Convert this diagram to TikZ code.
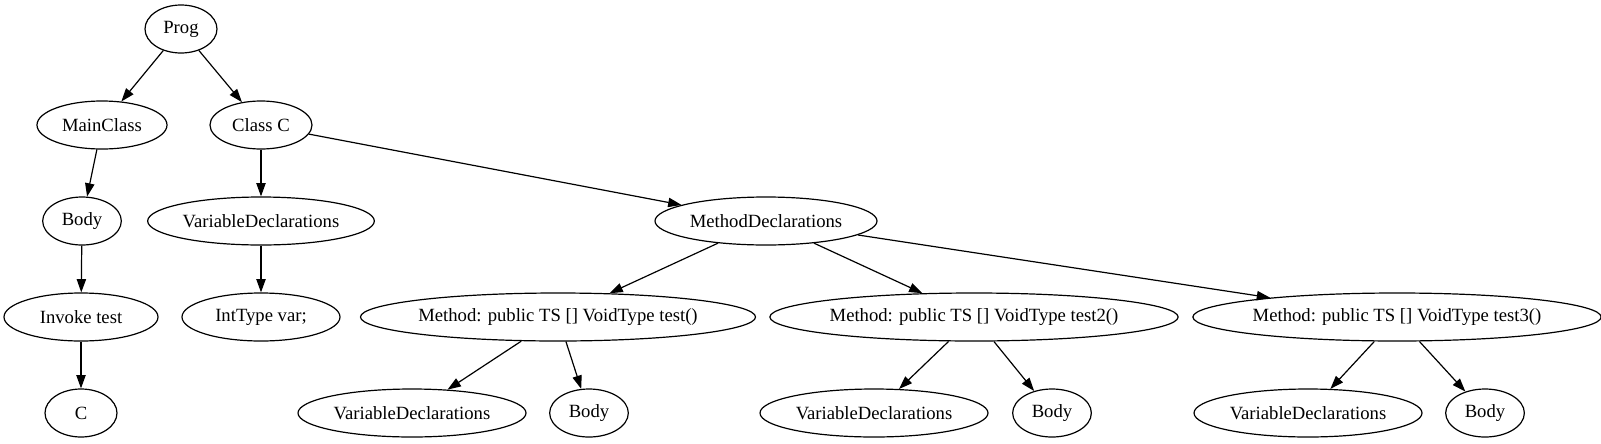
\documentclass[tikz,border=0pt]{standalone}
\usepackage{fontspec}
\setmainfont{Liberation Serif}
\usepackage{tikz}
\usetikzlibrary{shapes.geometric,arrows.meta}

\tikzset{
  treenode/.style={draw, ellipse, line width=0.9pt, inner sep=0pt,
    minimum height=36pt, font=\fontsize{14pt}{16pt}\selectfont},
  treeedge/.style={line width=0.9pt, -{Triangle[length=10pt,width=7pt]}}
}

\begin{document}
\begin{tikzpicture}[x=0.75pt, y=-0.75pt]

% Canvas (pixel units of the graph)
\useasboundingbox (0,0) rectangle (1601,443);

% Row heights
\def\RA{29}
\def\RB{125}
\def\RC{221}
\def\RD{317}
\def\RE{413}

% Root and classes
\node[treenode, minimum width=54pt] (prog) at (181,\RA) {Prog};
\node[treenode, minimum width=97.5pt] (mainclass) at (102,\RB) {MainClass};
\node[treenode, minimum width=76.5pt] (classc) at (261,\RB) {Class C};

% Main class branch
\node[treenode, minimum width=59pt] (mainbody) at (82,\RC) {Body};
\node[treenode, minimum width=115.5pt] (invoke) at (81,\RD) {Invoke test};
\node[treenode, minimum width=54pt] (cnode) at (81,\RE) {C};

% Class C branch
\node[treenode, minimum width=170pt] (classvars) at (261,\RC) {VariableDeclarations};
\node[treenode, minimum width=118.5pt] (inttype) at (261,\RD) {IntType var;};
\node[treenode, minimum width=166.5pt] (methods) at (766,\RC) {MethodDeclarations};

% Methods
\node[treenode, minimum width=289pt] (methA) at (558,\RD) {Method: public TS [] VoidType test()};
\node[treenode, minimum width=298.5pt] (methB) at (974,\RD) {Method: public TS [] VoidType test2()};
\node[treenode, minimum width=298.5pt] (methC) at (1397,\RD) {Method: public TS [] VoidType test3()};

% Method contents
\node[treenode, minimum width=171pt] (varsA) at (412,\RE) {VariableDeclarations};
\node[treenode, minimum width=59pt] (bodyA) at (589,\RE) {Body};
\node[treenode, minimum width=171pt] (varsB) at (874,\RE) {VariableDeclarations};
\node[treenode, minimum width=59pt] (bodyB) at (1052,\RE) {Body};
\node[treenode, minimum width=171pt] (varsC) at (1308,\RE) {VariableDeclarations};
\node[treenode, minimum width=59pt] (bodyC) at (1485,\RE) {Body};

% Edges
\draw[treeedge] (prog) -- (mainclass);
\draw[treeedge] (prog) -- (classc);
\draw[treeedge] (mainclass) -- (mainbody);
\draw[treeedge] (mainbody) -- (invoke);
\draw[treeedge] (invoke) -- (cnode);
\draw[treeedge] (classc) -- (classvars);
\draw[treeedge] (classc) -- (methods);
\draw[treeedge] (classvars) -- (inttype);
\draw[treeedge] (methods) -- (methA);
\draw[treeedge] (methods) -- (methB);
\draw[treeedge] (methods) -- (methC);
\draw[treeedge] (methA) -- (varsA);
\draw[treeedge] (methA) -- (bodyA);
\draw[treeedge] (methB) -- (varsB);
\draw[treeedge] (methB) -- (bodyB);
\draw[treeedge] (methC) -- (varsC);
\draw[treeedge] (methC) -- (bodyC);

\end{tikzpicture}
\end{document}
